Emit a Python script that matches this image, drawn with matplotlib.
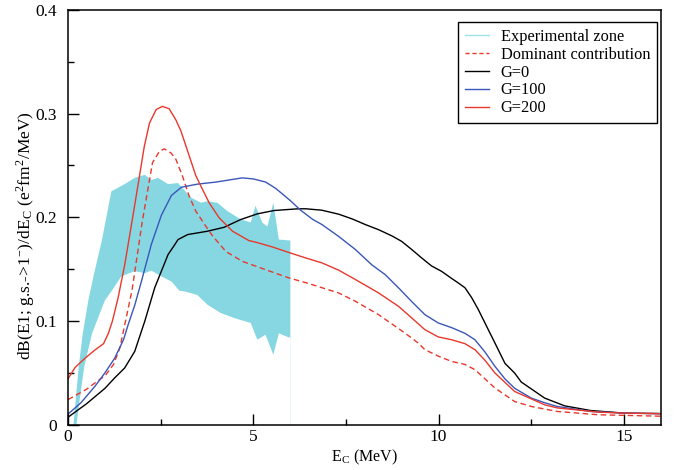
import numpy as np
import matplotlib.pyplot as plt
from matplotlib.lines import Line2D
from matplotlib.ticker import MultipleLocator

g0_x = [0, 0.5, 1.0, 1.26, 1.53, 1.8, 2.07, 2.34, 2.52, 2.7, 2.87, 2.97, 3.23, 3.76, 4.21,
        4.66, 5.11, 5.56, 6.18, 6.41, 6.85, 7.3, 7.66, 8.02, 8.38, 8.74, 9.0, 9.27, 9.54,
        9.81, 10.08, 10.35, 10.53, 10.71, 10.89, 11.07, 11.25, 11.52, 11.79, 12.05, 12.23,
        12.86, 13.4, 14.1, 15.0, 16.0]
g0_y = [0.007, 0.02, 0.035, 0.045, 0.0546, 0.0705, 0.0995, 0.132, 0.148, 0.164, 0.173,
        0.1785, 0.1833, 0.1865, 0.1903, 0.1978, 0.2033, 0.2065, 0.2081, 0.2082, 0.2068, 0.203,
        0.1985, 0.193, 0.188, 0.182, 0.1768, 0.169, 0.1608, 0.153, 0.1478, 0.141, 0.1366,
        0.132, 0.1225, 0.111, 0.098, 0.0786, 0.059, 0.0497, 0.041, 0.0255, 0.018, 0.0135,
        0.011, 0.0105]

g100_x = [0, 0.35, 0.73, 1.0, 1.26, 1.5, 1.62, 1.8, 1.98, 2.25, 2.52, 2.79, 3.06, 3.5, 4.0,
          4.7, 5.0, 5.33, 5.6, 6.0, 6.27, 6.6, 6.85, 7.3, 7.75, 8.02, 8.2, 8.56, 8.92, 9.27,
          9.63, 9.99, 10.35, 10.71, 10.98, 11.25, 11.52, 11.79, 12.05, 12.5, 12.86, 13.2,
          14.1, 15.0, 16.0]
g100_y = [0.01, 0.021, 0.037, 0.05, 0.064, 0.082, 0.096, 0.115, 0.138, 0.174, 0.202, 0.221,
          0.229, 0.232, 0.234, 0.238, 0.237, 0.234, 0.228, 0.216, 0.207, 0.198, 0.193, 0.1816,
          0.169, 0.16, 0.154, 0.1446, 0.1318, 0.1188, 0.106, 0.098, 0.0935, 0.088, 0.0818,
          0.07, 0.0561, 0.044, 0.035, 0.0255, 0.021, 0.0174, 0.0126, 0.011, 0.0105]

g200_x = [0, 0.19, 0.46, 0.73, 0.96, 1.09, 1.2, 1.35, 1.53, 1.76, 1.93, 2.06, 2.2, 2.38,
          2.55, 2.73, 2.91, 3.05, 3.18, 3.32, 3.45, 3.63, 3.81, 4.08, 4.44, 4.88, 5.06, 5.51,
          5.96, 6.41, 6.85, 7.3, 7.75, 8.38, 8.92, 9.27, 9.63, 9.99, 10.35, 10.71, 10.98,
          11.25, 11.52, 12.05, 12.86, 13.2, 14.3, 15.0, 16.0]
g200_y = [0.044, 0.055, 0.064, 0.072, 0.078, 0.088, 0.1, 0.122, 0.154, 0.203, 0.240, 0.2686,
          0.291, 0.304, 0.307, 0.3047, 0.294, 0.283, 0.269, 0.254, 0.240, 0.2268, 0.2139,
          0.1994, 0.1865, 0.1775, 0.176, 0.1714, 0.166, 0.1608, 0.156, 0.149, 0.14, 0.127,
          0.114, 0.103, 0.0915, 0.0845, 0.0818, 0.078, 0.0722, 0.062, 0.0497, 0.0319, 0.019,
          0.016, 0.012, 0.011, 0.0105]

dom_x = [0, 0.5, 0.78, 1.0, 1.23, 1.4, 1.53, 1.73, 2.0, 2.28, 2.47, 2.6, 2.78, 2.91, 3.09,
         3.27, 3.45, 3.72, 3.9, 4.26, 4.7, 5.6, 5.96, 6.5, 6.85, 7.3, 7.75, 8.38, 9.09, 9.45,
         9.63, 9.99, 10.35, 10.71, 10.98, 11.52, 12.05, 12.5, 13.2, 14.3, 16.0]
dom_y = [0.024, 0.034, 0.0415, 0.047, 0.058, 0.074, 0.096, 0.13, 0.195, 0.2526, 0.2638,
         0.266, 0.262, 0.256, 0.2396, 0.2204, 0.2058, 0.1913, 0.182, 0.167, 0.1575, 0.146,
         0.1415, 0.136, 0.132, 0.127, 0.119, 0.106, 0.0883, 0.0786, 0.0722, 0.066, 0.0609,
         0.058, 0.0529, 0.0352, 0.0222, 0.0174, 0.0126, 0.0094, 0.008]

# strefa eksperymentalna: gorna i dolna granica
band_ux = [0.15, 0.2, 0.29, 0.4, 0.55, 0.7, 0.91, 1.17, 1.53, 1.8, 2.07, 2.25, 2.43, 2.7,
           2.97, 3.32, 3.59, 3.76, 4.03, 4.3, 4.66, 4.93, 5.06, 5.24, 5.38, 5.54, 5.69, 6.0]
band_uy = [0.0, 0.02, 0.056, 0.088, 0.12, 0.145, 0.177, 0.225, 0.232, 0.238, 0.241, 0.236,
           0.238, 0.232, 0.233, 0.219, 0.214, 0.2155, 0.214, 0.206, 0.198, 0.195, 0.211,
           0.195, 0.191, 0.214, 0.1785, 0.1775]
band_lx = [0.23, 0.3, 0.44, 0.65, 0.91, 1.0, 1.17, 1.44, 1.8, 2.07, 2.25, 2.52, 2.79, 3.01,
           3.14, 3.49, 3.76, 4.12, 4.48, 4.93, 5.11, 5.33, 5.54, 5.69, 5.96, 6.0]
band_ly = [0.0, 0.02, 0.056, 0.088, 0.112, 0.12, 0.1285, 0.143, 0.148, 0.146, 0.1485, 0.143,
           0.138, 0.129, 0.1285, 0.125, 0.1157, 0.1076, 0.1028, 0.098, 0.0818, 0.0867,
           0.0673, 0.088, 0.084, 0.084]

plt.rcParams['font.family'] = ['Liberation Serif', 'DejaVu Serif']
plt.rcParams['mathtext.fontset'] = 'stix'

fig = plt.figure(figsize=(6.82, 4.70), dpi=100)
ax = fig.add_axes([0.0997, 0.0968, 0.8695, 0.8819])

band_col = '#87d7e3'
ax.fill(np.concatenate([band_ux, band_lx[::-1]]), np.concatenate([band_uy, band_ly[::-1]]),
        color=band_col, lw=0)
ax.vlines(band_lx[-1], 0, band_ly[-1], color=band_col, lw=0.5, alpha=0.25)

ax.plot(dom_x, dom_y, color='#e8382c', lw=1.0, ls=(0, (4, 2.5)))
ax.plot(g0_x, g0_y, color='black', lw=1.0)
ax.plot(g100_x, g100_y, color='#3a56b8', lw=1.0)
ax.plot(g200_x, g200_y, color='#e8382c', lw=1.0)

ax.set_xlim(0, 16)
ax.set_ylim(0, 0.4)
ax.xaxis.set_major_locator(MultipleLocator(5))
ax.xaxis.set_minor_locator(MultipleLocator(2.5))
ax.yaxis.set_major_locator(MultipleLocator(0.1))
ax.yaxis.set_minor_locator(MultipleLocator(0.05))
ax.xaxis.set_major_formatter(plt.FuncFormatter(lambda v, p: '%g' % v))
ax.yaxis.set_major_formatter(plt.FuncFormatter(lambda v, p: '%g' % round(v, 2)))
ax.tick_params(which='both', direction='in', top=False, right=False, labelsize=12.5, width=1)
ax.tick_params(which='major', length=8)
ax.tick_params(axis='y', pad=8)
ax.tick_params(axis='x', pad=3)
ax.tick_params(which='minor', length=4)
for s in ax.spines.values():
    s.set_linewidth(1.1)

ax.set_xlabel('E$_\\mathregular{C}$ (MeV)', fontsize=11.5, labelpad=2)
ax.set_ylabel('dB(E1; g.s.->1$^\\mathregular{-}$)/dE$_\\mathregular{C}$ '
              '(e$^\\mathregular{2}$fm$^\\mathregular{2}$/MeV)', fontsize=12.5)
ax.yaxis.set_label_coords(-0.052, 0.455)

handles = [Line2D([], [], color='#9fe2ec', lw=1.0),
           Line2D([], [], color='#e8382c', lw=1.0, ls=(0, (3, 2))),
           Line2D([], [], color='black', lw=1.0),
           Line2D([], [], color='#3a56b8', lw=1.0),
           Line2D([], [], color='#e8382c', lw=1.0)]
labels = ['Experimental zone', 'Dominant contribution', 'G=0', 'G=100', 'G=200']
leg = ax.legend(handles, labels, loc='upper right', bbox_to_anchor=(0.993, 0.971),
                borderaxespad=0, fontsize=11.8, fancybox=False, edgecolor='black',
                handlelength=1.5, handletextpad=0.7, labelspacing=0.12, borderpad=0.4,
                framealpha=1)
leg.get_frame().set_linewidth(1.0)

plt.savefig('out.png', dpi=100)
